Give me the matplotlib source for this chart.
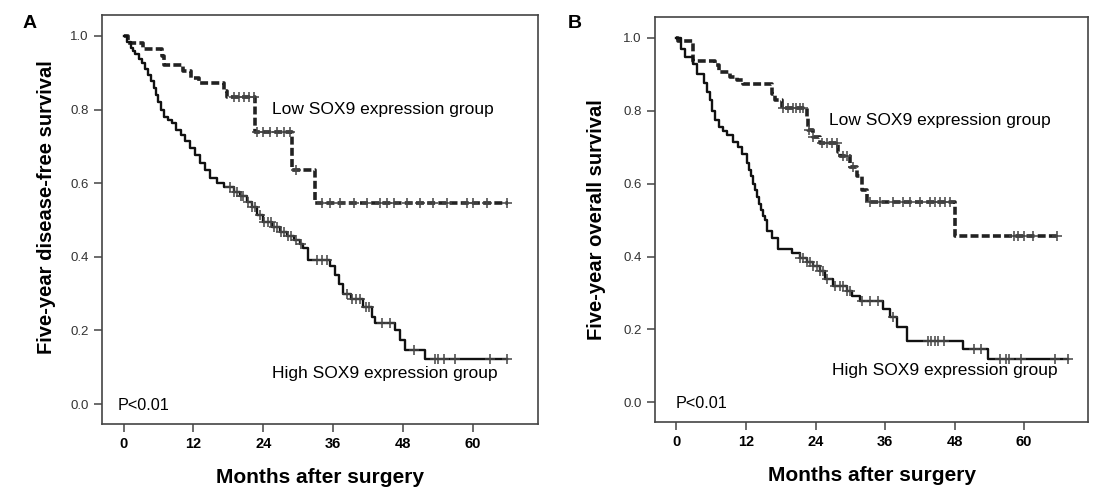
import numpy as np
import matplotlib.pyplot as plt

plt.rcParams['font.family'] = ['Liberation Sans', 'DejaVu Sans']

# ---- panel A: disease-free survival ----
a_low_t = [0, 0.8, 3.4, 6.6, 7.0, 10.2, 11.6, 13.0, 17.2, 17.8, 22.5, 29.0, 32.8]
a_low_s = [1.0, 0.98, 0.965, 0.945, 0.92, 0.905, 0.886, 0.872, 0.85, 0.834, 0.739, 0.636, 0.546]
a_low_end = 66.0
a_low_cens = [19.0, 19.8, 20.7, 21.5, 22.4, 22.9, 24.0, 25.2, 26.3, 27.5, 28.6, 29.6,
              34.1, 35.5, 37.2, 39.5, 41.8, 44.1, 45.2, 46.4, 48.6, 50.9, 53.2, 55.5,
              58.9, 60.0, 62.4, 65.8]

a_high_t = [0, 0.6, 1.2, 1.6, 2.0, 2.6, 3.2, 3.7, 4.2, 4.7, 5.2, 5.6, 6.0, 6.5, 6.9, 7.6,
            8.3, 9.0, 9.8, 10.6, 11.5, 12.3, 13.2, 14.0, 14.9, 16.0, 17.2, 18.9, 20.0,
            21.2, 22.0, 23.0, 24.0, 25.5, 26.9, 28.0, 29.2, 30.3, 30.9, 31.7, 35.5, 36.3,
            37.0, 37.7, 39.0, 41.2, 42.7, 43.2, 46.6, 47.5, 48.4, 51.8]
a_high_s = [1.0, 0.985, 0.967, 0.958, 0.95, 0.938, 0.927, 0.91, 0.895, 0.877, 0.86, 0.84,
            0.82, 0.80, 0.78, 0.772, 0.764, 0.745, 0.731, 0.715, 0.696, 0.676, 0.655,
            0.635, 0.614, 0.6, 0.59, 0.576, 0.565, 0.55, 0.535, 0.515, 0.495, 0.48, 0.467,
            0.456, 0.446, 0.435, 0.424, 0.391, 0.375, 0.35, 0.325, 0.30, 0.285, 0.264,
            0.237, 0.22, 0.2, 0.174, 0.147, 0.122]
a_high_end = 65.9
a_high_cens = [18.3, 18.9, 19.5, 20.1, 20.6, 21.3, 22.0, 22.6, 23.5, 24.2, 24.8, 25.3,
               25.9, 26.4, 27.0, 27.6, 28.2, 28.8, 29.6, 30.5, 33.2, 34.1, 34.9, 38.4,
               39.2, 40.0, 40.6, 41.6, 42.2, 44.4, 45.8, 49.8, 53.5, 54.0, 55.0, 57.0,
               63.0, 65.9]

# ---- panel B: overall survival ----
b_low_t = [0, 0.3, 2.8, 6.6, 7.4, 9.2, 10.4, 11.4, 16.4, 17.0, 18.2, 22.5, 22.7, 23.5,
           24.7, 27.9, 28.2, 30.0, 31.1, 32.0, 32.9, 48.1]
b_low_s = [1.0, 0.99, 0.935, 0.924, 0.905, 0.892, 0.883, 0.872, 0.847, 0.828, 0.807, 0.78,
           0.747, 0.728, 0.711, 0.687, 0.676, 0.646, 0.62, 0.583, 0.55, 0.455]
b_low_end = 65.9
b_low_cens = [18.3, 19.2, 20.1, 20.7, 21.3, 21.8, 22.9, 23.5, 25.1, 25.9, 26.8, 27.7,
              28.7, 29.4, 30.5, 33.4, 35.1, 37.4, 39.1, 40.3, 42.0, 43.8, 44.6, 45.5,
              46.4, 47.2, 58.2, 59.0, 59.9, 61.6, 65.7]

b_high_t = [0, 0.8, 1.4, 2.8, 3.6, 4.8, 5.2, 5.7, 6.2, 6.6, 7.4, 8.1, 8.8, 9.7, 10.6, 11.3,
            12.1, 12.5, 12.8, 13.2, 13.5, 13.9, 14.2, 14.6, 14.9, 15.2, 15.7, 16.5, 17.5,
            20.0, 21.3, 22.5, 23.6, 24.7, 25.6, 27.0, 29.4, 30.3, 31.7, 35.6, 36.8, 38.0,
            39.8, 49.5, 53.8]
b_high_s = [1.0, 0.97, 0.946, 0.928, 0.9, 0.877, 0.85, 0.828, 0.8, 0.774, 0.755, 0.744,
            0.733, 0.715, 0.7, 0.68, 0.657, 0.638, 0.62, 0.6, 0.583, 0.564, 0.545, 0.527,
            0.51, 0.5, 0.469, 0.452, 0.42, 0.41, 0.397, 0.384, 0.373, 0.36, 0.338, 0.319,
            0.305, 0.292, 0.278, 0.256, 0.234, 0.207, 0.169, 0.147, 0.12]
b_high_end = 67.6
b_high_cens = [21.3, 21.8, 22.5, 23.0, 23.6, 24.2, 24.7, 25.3, 25.9, 27.3, 28.2, 28.8,
               29.4, 30.0, 32.0, 33.4, 34.8, 37.4, 43.4, 44.0, 44.6, 45.2, 46.1, 51.4,
               52.6, 55.9, 56.8, 57.4, 59.4, 65.4, 67.6]

xticks = [0, 12, 24, 36, 48, 60]
yticks = [0.0, 0.2, 0.4, 0.6, 0.8, 1.0]


def km(ax, t, s, end, cens, dashed):
    tt = list(t) + [end]
    ss = list(s) + [s[-1]]
    if dashed:
        ax.step(tt, ss, where='post', color='#222222', lw=2.6,
                linestyle=(0, (2.2, 0.9)), zorder=3)
    else:
        ax.step(tt, ss, where='post', color='#111111', lw=1.7, zorder=3)
    idx = np.searchsorted(t, cens, side='right') - 1
    cy = np.array(s)[idx]
    ax.plot(cens, cy, '+', color='#444444', ms=7, mew=1.1, zorder=4)


def setup(ax, ylabel, label_x, label_y):
    ax.set_xlim(-3.7, 71.1)
    ax.set_ylim(-0.054, 1.057)
    ax.set_xticks(xticks)
    ax.set_yticks(yticks)
    ax.set_xticklabels([str(x) for x in xticks], fontweight='bold', fontsize=10.5)
    ax.set_yticklabels(['%.1f' % y for y in yticks], fontsize=9.5, color='#333333')
    ax.tick_params(direction='out', length=6, width=1.1, color='#444444')
    for sp in ax.spines.values():
        sp.set_color('#444444')
        sp.set_linewidth(1.2)
    ax.set_xlabel('Months after surgery', fontsize=15, fontweight='bold', labelpad=12)
    ax.set_ylabel(ylabel, fontsize=14.5, fontweight='bold')
    ax.yaxis.set_label_coords(label_x, label_y)


fig = plt.figure(figsize=(11, 5), dpi=100)
axA = fig.add_axes([0.0927, 0.152, 0.396, 0.818])
axB = fig.add_axes([0.5955, 0.156, 0.394, 0.810])

km(axA, a_low_t, a_low_s, a_low_end, a_low_cens, True)
km(axA, a_high_t, a_high_s, a_high_end, a_high_cens, False)
setup(axA, 'Five-year disease-free survival', -0.105, 0.53)
axA.text(25.5, 0.80, 'Low SOX9 expression group', fontsize=12.5, va='center')
axA.text(25.5, 0.084, 'High SOX9 expression group', fontsize=12.5, va='center')
axA.text(-1.0, -0.005, 'P<0.01', fontsize=11.7, va='center')

km(axB, b_low_t, b_low_s, b_low_end, b_low_cens, True)
km(axB, b_high_t, b_high_s, b_high_end, b_high_cens, False)
setup(axB, 'Five-year overall survival', -0.113, 0.5)
axB.text(26.3, 0.774, 'Low SOX9 expression group', fontsize=12.5, va='center')
axB.text(26.8, 0.087, 'High SOX9 expression group', fontsize=12.5, va='center')
axB.text(-0.2, -0.003, 'P<0.01', fontsize=11.7, va='center')

fig.text(30 / 1100, 1 - 24 / 500, 'A', fontsize=14, fontweight='bold', va='center', ha='center')
fig.text(575 / 1100, 1 - 24 / 500, 'B', fontsize=14, fontweight='bold', va='center', ha='center')

fig.savefig('out.png', dpi=100)
